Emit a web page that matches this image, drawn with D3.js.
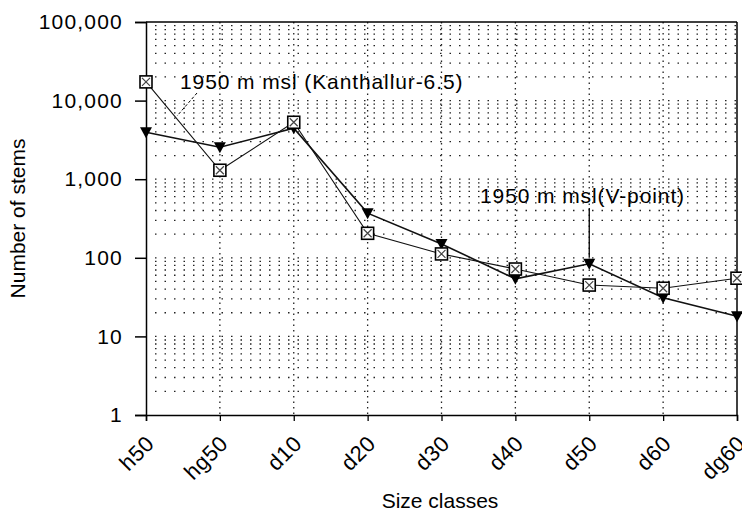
<!DOCTYPE html>
<html><head><meta charset="utf-8">
<script src="https://cdn.jsdelivr.net/npm/d3@7"></script>
<style>body{margin:0;background:#fff}svg{display:block}</style>
</head><body>
<svg id="c" width="742" height="525"></svg>
<script>
const categories = ["h50","hg50","d10","d20","d30","d40","d50","d60","dg60"];
const kanthallur = [17300,1300,5300,205,112,72,45,41,55];
const vpoint = [3950,2550,4450,370,150,54,84,31,18];
const yTicks = [1,10,100,1000,10000,100000];

const svg = d3.select("#c");
const m = {l:146,r:737,t:22,b:415};
const x = d3.scalePoint().domain(categories).range([m.l,m.r]);
const y = d3.scaleLog().domain([1,100000]).range([m.b,m.t]);
const font = "'Liberation Sans', Arial, sans-serif";

// minor horizontal grid
const gridVals = [];
for (let d=0; d<5; d++) for (let k=1;k<=9;k++){ const v=k*Math.pow(10,d); if(v>1) gridVals.push(v);}
svg.append("g").selectAll("line").data(gridVals).join("line")
  .attr("x1",m.l+9).attr("x2",m.r).attr("y1",d=>y(d)).attr("y2",d=>y(d))
  .attr("stroke","#222").attr("stroke-width",1.3).attr("stroke-dasharray","1.5,8");
// vertical grid
svg.append("g").selectAll("line").data(categories.slice(1,-1)).join("line")
  .attr("x1",d=>x(d)).attr("x2",d=>x(d)).attr("y1",m.t).attr("y2",m.b)
  .attr("stroke","#222").attr("stroke-width",1.3).attr("stroke-dasharray","1.5,4");

// frame
svg.append("line").attr("x1",m.l).attr("x2",m.r).attr("y1",m.t).attr("y2",m.t).attr("stroke","#000").attr("stroke-width",1.5);
svg.append("line").attr("x1",m.r).attr("x2",m.r).attr("y1",m.t).attr("y2",m.b).attr("stroke","#000").attr("stroke-width",1.5);

// axes
const yAxis = svg.append("g").attr("transform",`translate(${m.l},0)`)
  .call(d3.axisLeft(y).tickValues(yTicks).tickFormat(d3.format(",")).tickSize(11).tickPadding(12));
yAxis.selectAll("text").attr("font-family",font).attr("font-size",21).attr("letter-spacing",1.2).attr("fill","#000");
yAxis.selectAll("path,line").attr("stroke","#000").attr("stroke-width",1.5);

const xAxis = svg.append("g").attr("transform",`translate(0,${m.b})`)
  .call(d3.axisBottom(x).tickSize(6).tickPadding(4));
xAxis.select(".domain").attr("stroke","#000").attr("stroke-width",1.5);
xAxis.selectAll("line").attr("stroke","#000").attr("stroke-width",1.3);
xAxis.selectAll("text").attr("font-family",font).attr("font-size",22).attr("letter-spacing",0.5).attr("fill","#000")
  .attr("text-anchor","end").attr("dy","0").attr("y",0)
  .attr("transform","translate(9,30) rotate(-45)");

// lines
const line = (arr)=>d3.line().x((d,i)=>x(categories[i])).y(d=>y(d))(arr);
svg.append("path").attr("d",line(kanthallur)).attr("fill","none").attr("stroke","#111").attr("stroke-width",1.1);
svg.append("path").attr("d",line(vpoint)).attr("fill","none").attr("stroke","#111").attr("stroke-width",1.6);

// triangle markers
svg.append("g").selectAll("path").data(vpoint).join("path")
  .attr("transform",(d,i)=>`translate(${x(categories[i])},${y(d)})`)
  .attr("d","M-6,-5L6,-5L0,6Z").attr("fill","#000");
// square markers
const sq = svg.append("g").selectAll("g").data(kanthallur).join("g")
  .attr("transform",(d,i)=>`translate(${x(categories[i])},${y(d)})`);
sq.append("rect").attr("x",-6).attr("y",-6).attr("width",12).attr("height",12)
  .attr("fill","#fff").attr("stroke","#000").attr("stroke-width",1.6);
sq.append("path").attr("d","M-4,-4L4,4M4,-4L-4,4").attr("stroke","#444").attr("stroke-width",1.2);

// annotations
svg.append("text").attr("x",180).attr("y",89).attr("font-family",font).attr("font-size",21).attr("letter-spacing",0.9).text("1950 m msl (Kanthallur-6.5)");
svg.append("line").attr("x1",197).attr("y1",93).attr("x2",177).attr("y2",116).attr("stroke","#000").attr("stroke-width",1).attr("stroke-dasharray","3,2");
svg.append("text").attr("x",480).attr("y",203).attr("font-family",font).attr("font-size",21).attr("letter-spacing",0.9).text("1950 m msl(V-point)");
svg.append("line").attr("x1",x("d50")).attr("x2",x("d50")).attr("y1",208).attr("y2",y(vpoint[6])-6).attr("stroke","#000").attr("stroke-width",1.3);

// axis titles
svg.append("text").attr("transform",`translate(25,${(m.t+m.b)/2}) rotate(-90)`).attr("text-anchor","middle")
  .attr("font-family",font).attr("font-size",21).text("Number of stems");
svg.append("text").attr("x",440).attr("y",508).attr("text-anchor","middle")
  .attr("font-family",font).attr("font-size",21).text("Size classes");
</script>
</body></html>
